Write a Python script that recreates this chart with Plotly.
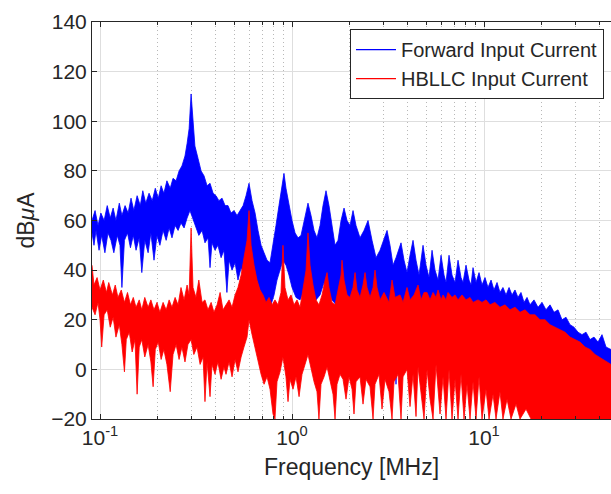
import plotly.graph_objects as go

# ---- Forward converter input current spectrum (MHz, dBuA) ----
fwd_hi_f = [0.0908, 0.0942, 0.0976, 0.101, 0.105, 0.109, 0.113, 0.117, 0.121, 0.126, 0.130, 0.135, 0.140,
            0.145, 0.150, 0.156, 0.162, 0.167, 0.173, 0.180, 0.187, 0.194, 0.201, 0.208, 0.215, 0.223, 0.232,
            0.240, 0.249, 0.258, 0.267, 0.277, 0.284, 0.291, 0.298, 0.305, 0.312, 0.324, 0.336, 0.348, 0.361,
            0.374, 0.388, 0.402, 0.416, 0.432, 0.448, 0.464, 0.481, 0.499, 0.517, 0.536, 0.556, 0.576, 0.597,
            0.619, 0.642, 0.665, 0.690, 0.715, 0.741, 0.768, 0.796, 0.825, 0.855, 0.887, 0.908, 0.930, 0.964,
            1.0, 1.037, 1.075, 1.114, 1.155, 1.183, 1.211, 1.256, 1.302, 1.349, 1.399, 1.450, 1.503, 1.558,
            1.616, 1.675, 1.736, 1.800, 1.866, 1.934, 2.005, 2.078, 2.154, 2.260, 2.371, 2.488, 2.610, 2.738,
            2.873, 3.014, 3.125, 3.239, 3.358, 3.481, 3.696, 3.831, 3.971, 4.117, 4.268, 4.424, 4.586, 4.812,
            4.988, 5.171, 5.361, 5.557, 5.761, 5.972, 6.190, 6.340, 6.572, 6.813, 7.062, 7.321, 7.589, 7.774,
            8.058, 8.354, 8.556, 8.764, 9.085, 9.418, 9.763, 10.12, 10.49, 10.88, 11.27, 11.69, 12.11, 12.55,
            13.02, 13.50, 13.99, 14.50, 15.03, 15.58, 16.16, 16.75, 17.36, 18.21, 19.11, 20.05, 21.03, 22.07,
            23.15, 24.29, 25.48, 26.74, 28.05, 29.43, 30.87, 32.39, 33.98, 35.65, 37.40, 39.24, 41.17, 43.19,
            45.86]
fwd_hi_db = [60, 64, 58, 63, 60, 66, 61, 65, 60, 67, 62, 66, 63,
             69, 64, 70, 66, 72, 67, 71, 68, 73, 69, 74, 71, 76, 73,
             77, 76, 80, 82, 86, 91, 97, 111, 100, 90, 85, 80, 78, 74,
             75, 71, 70, 68, 69, 66, 66, 63, 64, 62, 64, 66, 70, 75,
             68, 63, 56, 50, 47, 44, 43, 50, 58, 66, 74, 79, 73, 66,
             60, 55, 53, 54, 60, 64, 67, 62, 56, 53, 58, 66, 72, 66,
             58, 50, 52, 60, 65, 60, 58, 64, 58, 53, 56, 60, 52, 45,
             48, 53, 56, 50, 42, 45, 51, 44, 39, 46, 52, 44, 38, 50,
             42, 37, 48, 40, 36, 46, 38, 35, 46, 38, 35, 44, 37, 35,
             42, 36, 34, 41, 35, 39, 34, 37, 33, 36, 32, 35, 31, 33,
             30, 33, 30, 32, 29, 31, 27, 29, 26, 28, 25, 27, 24, 26,
             23, 24, 20, 21, 18, 17, 15, 14, 15, 12, 13, 11, 14, 9,
             8]

fwd_lo_f = [0.0908, 0.0930, 0.0953, 0.0988, 0.102, 0.106, 0.110, 0.114, 0.118, 0.123, 0.127, 0.130, 0.134,
            0.139, 0.144, 0.149, 0.154, 0.160, 0.165, 0.171, 0.178, 0.184, 0.191, 0.198, 0.205, 0.213, 0.221,
            0.229, 0.237, 0.246, 0.255, 0.264, 0.274, 0.284, 0.294, 0.305, 0.316, 0.327, 0.340, 0.352, 0.365,
            0.374, 0.383, 0.397, 0.411, 0.427, 0.442, 0.458, 0.470, 0.487, 0.505, 0.523, 0.543, 0.562, 0.583,
            0.604, 0.627, 0.649, 0.673, 0.698, 0.723, 0.750, 0.777, 0.806, 0.835, 0.866, 0.897, 0.930, 0.964,
            1.0, 1.049, 1.101, 1.155, 1.211, 1.271, 1.333, 1.399, 1.468, 1.540, 1.616, 1.695, 1.778, 1.866,
            2.005, 2.260, 2.873, 3.40, 3.48, 3.56, 4.642, 5.900, 7.681, 7.95, 8.454, 8.65, 10.24, 10.49, 10.75,
            11.27, 11.55, 11.82, 14.68, 15.03, 15.40, 20.05, 30.87, 45.86]
fwd_lo_db = [55, 50, 56, 48, 54, 47, 55, 52, 47, 54, 50, 33, 52,
             55, 49, 54, 48, 53, 39, 52, 47, 55, 44, 54, 50, 56, 52,
             57, 53, 58, 56, 59, 57, 61, 64, 60, 57, 54, 56, 51, 53,
             41, 51, 48, 50, 45, 48, 31, 44, 40, 43, 36, 41, 38, 44,
             47, 40, 37, 33, 30, 27, 24, 26, 30, 36, 40, 44, 42, 38,
             33, 29, 28, 32, 36, 33, 28, 30, 35, 32, 28, 26, 30, 32,
             28, 24, 22, 20, -6, 20, 18, 16, 15, 14, -15, 13, 12, -12, 12,
             11, -17, 11, 10, -14, 10, 8, 5, 0]

# ---- Half-bridge LLC input current spectrum (MHz, dBuA) ----
llc_hi_f = [0.0908, 0.0930, 0.0965, 0.100, 0.104, 0.108, 0.111, 0.116, 0.120, 0.124, 0.129, 0.134, 0.139,
            0.144, 0.149, 0.154, 0.160, 0.165, 0.171, 0.178, 0.184, 0.191, 0.198, 0.205, 0.213, 0.221, 0.229,
            0.237, 0.246, 0.255, 0.264, 0.274, 0.284, 0.291, 0.298, 0.305, 0.316, 0.327, 0.340, 0.352, 0.365,
            0.379, 0.392, 0.407, 0.422, 0.437, 0.453, 0.470, 0.487, 0.505, 0.523, 0.543, 0.562, 0.583, 0.597,
            0.612, 0.634, 0.657, 0.681, 0.706, 0.732, 0.759, 0.787, 0.815, 0.845, 0.876, 0.897, 0.919, 0.953,
            0.988, 1.024, 1.062, 1.101, 1.141, 1.183, 1.211, 1.241, 1.286, 1.333, 1.381, 1.433, 1.486, 1.522,
            1.558, 1.616, 1.675, 1.736, 1.800, 1.821, 1.866, 1.934, 2.005, 2.078, 2.129, 2.180, 2.260, 2.343,
            2.400, 2.458, 2.548, 2.642, 2.706, 2.771, 2.873, 3.014, 3.200, 3.318, 3.439, 3.652, 3.786, 3.971,
            4.117, 4.319, 4.532, 4.698, 4.870, 5.049, 5.234, 5.425, 5.624, 5.761, 5.972, 6.116, 6.340, 6.494,
            6.813, 7.062, 7.321, 7.681, 8.058, 8.454, 8.764, 9.306, 9.763, 10.24, 10.75, 11.39, 12.11, 12.86,
            13.66, 14.50, 15.40, 16.35, 17.36, 18.43, 19.57, 20.78, 22.07, 23.43, 24.88, 26.42, 28.05, 29.78,
            31.62, 33.58, 35.65, 37.85, 39.74, 41.67, 43.70, 45.86]
llc_hi_db = [42, 34, 37, 32, 36, 31, 35, 30, 34, 29, 32, 27, 31,
             26, 29, 25, 28, 24, 29, 25, 28, 24, 27, 23, 27, 24, 28,
             25, 29, 26, 33, 28, 34, 30, 57, 33, 29, 36, 27, 28, 24,
             27, 23, 26, 31, 24, 26, 28, 25, 30, 33, 38, 45, 52, 64,
             50, 42, 36, 32, 30, 27, 29, 26, 28, 26, 31, 50, 33, 28,
             30, 26, 28, 25, 32, 40, 55, 42, 34, 28, 26, 30, 36, 39,
             33, 27, 26, 32, 38, 44, 36, 30, 29, 33, 39, 32, 29, 34,
             39, 33, 29, 33, 40, 33, 28, 31, 27, 36, 29, 30, 27, 33,
             28, 30, 34, 28, 31, 31, 28, 31, 29, 32, 28, 30, 28, 31,
             29, 30, 28, 30, 28, 29, 27, 28, 27, 28, 26, 27, 25, 26,
             24, 25, 23, 24, 22, 22, 20, 20, 18, 17, 16, 15, 13, 12,
             11, 9, 8, 6, 5, 4, 3, 2]

llc_lo_f = [0.0908, 0.0942, 0.0976, 0.100, 0.102, 0.105, 0.109, 0.113, 0.117, 0.121, 0.126, 0.130, 0.134,
            0.137, 0.142, 0.147, 0.152, 0.156, 0.160, 0.165, 0.171, 0.178, 0.184, 0.189, 0.194, 0.201, 0.208,
            0.215, 0.223, 0.232, 0.240, 0.249, 0.258, 0.267, 0.277, 0.287, 0.298, 0.308, 0.320, 0.332, 0.344,
            0.352, 0.361, 0.374, 0.383, 0.397, 0.411, 0.427, 0.442, 0.453, 0.470, 0.487, 0.505, 0.523, 0.543,
            0.562, 0.583, 0.597, 0.619, 0.642, 0.665, 0.690, 0.715, 0.741, 0.768, 0.796, 0.815, 0.835, 0.866,
            0.897, 0.930, 0.953, 0.976, 1.012, 1.049, 1.088, 1.127, 1.169, 1.211, 1.256, 1.302, 1.349, 1.381,
            1.416, 1.468, 1.522, 1.577, 1.635, 1.675, 1.715, 1.778, 1.843, 1.911, 1.981, 2.054, 2.103, 2.154,
            2.260, 2.343, 2.429, 2.548, 2.642, 2.706, 2.839, 2.943, 3.050, 3.200, 3.318, 3.398, 3.565, 3.696,
            3.786, 3.971, 4.117, 4.268, 4.424, 4.532, 4.698, 4.870, 5.049, 5.234, 5.425, 5.624, 5.900, 6.116,
            6.340, 6.572, 6.813, 7.062, 7.321, 7.589, 7.867, 8.156, 8.454, 8.764, 9.085, 9.418, 9.763, 10.24,
            10.62, 11.14, 11.55, 12.11, 12.55, 13.18, 13.82, 14.68, 15.40, 16.55, 17.57, 45.86]
llc_lo_db = [25, 22, 27, 20, 9, 22, 24, 17, 21, 13, 18, 10, -1,
             12, 15, 7, 12, -10, 9, 12, 5, 10, 3, -7, 8, 11, 4,
             8, 2, -9, 6, 10, 4, 9, 3, 10, 12, 6, 9, 2, 5,
             -13, 3, -11, 2, -2, 3, -4, 1, -2, 3, -3, 4, -1, 5,
             9, 13, 20, 14, 8, 3, -2, -6, -3, -8, -18, -20, -5, -1,
             5, -3, -13, -4, -8, -3, -11, -2, 2, 6, 0, -5, -9, -20,
             -6, -3, 1, -5, -10, -20, -6, -2, -4, -12, -3, -8, -18, -5,
             -3, -14, -4, -7, -20, -6, -2, -16, -4, -9, -20, -5, -2, -20,
             -3, 0, -15, -2, -19, 1, -10, -20, 0, -12, -20, 2, -18, -3,
             -20, 0, -20, -4, -20, -2, -20, -6, -20, -5, -20, -3, -20, -8,
             -20, -10, -20, -9, -20, -12, -20, -14, -20, -16, -20, -20]

series = [
    ("Forward Input Current", "#0000ff", fwd_hi_f, fwd_hi_db, fwd_lo_f, fwd_lo_db),
    ("HBLLC Input Current", "#ff0000", llc_hi_f, llc_hi_db, llc_lo_f, llc_lo_db),
]

x_ticks = [0.1, 1, 10]
x_ticktext = ["10<sup>-1</sup>", "10<sup>0</sup>", "10<sup>1</sup>"]
x_minor = [0.2, 0.3, 0.4, 0.5, 0.6, 0.7, 0.8, 0.9, 2, 3, 4, 5, 6, 7, 8, 9, 20, 30, 40]

FONT = "Liberation Sans, Arial, sans-serif"
INK = "#262626"

fig = go.Figure()

# dense spectrum drawn as the band between its upper and lower envelopes
for name, color, hf, hv, lf, lv in series:
    fig.add_trace(go.Scatter(
        x=hf + lf[::-1], y=hv + lv[::-1],
        mode="lines", fill="toself", fillcolor=color,
        line=dict(color=color, width=0.8),
        showlegend=False, hoverinfo="skip",
    ))

# legend entries as line samples
for name, color, *_ in series:
    fig.add_trace(go.Scatter(
        x=[None], y=[None], mode="lines", name=name,
        line=dict(color=color, width=1.2),
    ))

fig.update_layout(
    width=611, height=494,
    margin=dict(l=92, r=0, t=22, b=75),
    paper_bgcolor="white", plot_bgcolor="white",
    font=dict(family=FONT, color=INK),
    showlegend=True,
    legend=dict(
        x=0.9865, xanchor="right", y=0.982, yanchor="top",
        bgcolor="white", bordercolor=INK, borderwidth=1,
        font=dict(size=20, color=INK, family=FONT),
        itemwidth=40, tracegroupgap=0,
    ),
)

fig.update_xaxes(
    type="log", range=[-1.0419, 1.6614],
    tickvals=x_ticks, ticktext=x_ticktext,
    tickfont=dict(size=21, color=INK),
    ticks="inside", ticklen=5, tickcolor=INK,
    showgrid=True, gridcolor="#dedede", gridwidth=1,
    minor=dict(tickvals=x_minor, showgrid=True, griddash="1px,3px",
               gridcolor="#b8b8b8", gridwidth=1,
               ticks="inside", ticklen=3, tickcolor=INK),
    showline=True, linecolor=INK, linewidth=1, mirror="ticks",
    zeroline=False,
    title=dict(text="Frequency [MHz]", font=dict(size=23, color=INK), standoff=10),
)

fig.update_yaxes(
    range=[-20, 140], dtick=20,
    tickfont=dict(size=21, color=INK),
    ticks="inside", ticklen=5, tickcolor=INK,
    showgrid=True, gridcolor="#dedede", gridwidth=1,
    showline=True, linecolor=INK, linewidth=1, mirror=False,
    zeroline=False,
    title=dict(text="dB<i>μ</i>A", font=dict(size=23, color=INK), standoff=10),
)

fig.write_html("out.html")
